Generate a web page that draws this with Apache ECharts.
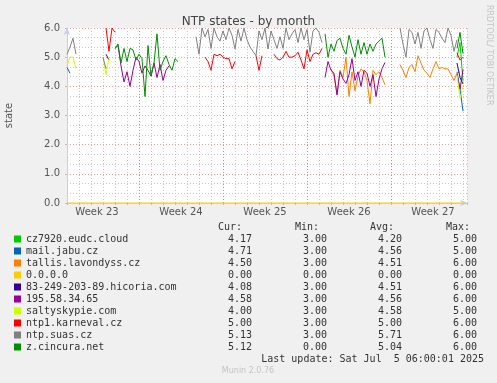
<!DOCTYPE html>
<html><head><meta charset="utf-8">
<script src="https://cdn.jsdelivr.net/npm/echarts@6/dist/echarts.min.js"></script>
<style>html,body{margin:0;padding:0;background:#f0f0f0}#c{width:497px;height:383px}</style>
</head><body><div id="c"></div>
<script>
// ---- data ----
const hosts = ['cz7920.eudc.cloud','mail.jabu.cz','tallis.lavondyss.cz','0.0.0.0','83-249-203-89.hicoria.com','195.58.34.65','saltyskypie.com','ntp1.karneval.cz','ntp.suas.cz','z.cincura.net'];
const curVals = [4.17,4.71,4.50,0.00,4.08,4.58,4.00,5.00,5.13,5.12];
const minVals = [3.00,3.00,3.00,0.00,3.00,3.00,3.00,3.00,3.00,0.00];
const avgVals = [4.20,4.56,4.51,0.00,4.51,4.56,4.58,5.00,5.71,5.04];
const maxVals = [5.00,5.00,6.00,0.00,6.00,6.00,5.00,6.00,6.00,6.00];
const weekLabels = ['Week 23','Week 24','Week 25','Week 26','Week 27'];
const weekCenters = [3.5,10.5,17.5,24.5,31.5];   // days since Mon of week 23
const weekStarts = [7,14,21,28];
const yTicks = [0,1,2,3,4,5,6];
const startDay = 1, endDay = 34 + 1/3, stepDays = 0.25; // 6-hour samples
// segments: [sample index, values]
const cz7920 = [[130,[5.0,5.5,4.17]]];
const mailJabu = [[0,[4.65,4.45]],[130,[4.5,3.9,3.15]]];
const tallis = [[88,[4.6,4.35,3.75,4.55,4.3,5.0,3.65,4.5,3.85,4.35,4.6,4.5,4.2,3.4,4.55,4.4,4.5,4.3,4.05]],
  [111,[4.75,4.55,4.3,4.65,4.75,4.5,5.05,4.8,4.55,4.45,4.3,4.6,4.85,4.6,4.65,4.6,4.6,4.4,4.2,4.45,4.5]]];
const host0000 = [[0,[0,0,0,0,0,0,0,0,0,0, 0,0,0,0,0,0,0,0,0,0, 0,0,0,0,0,0,0,0,0,0, 0,0,0,0,0,0,0,0,0,0,
  0,0,0,0,0,0,0,0,0,0, 0,0,0,0,0,0,0,0,0,0, 0,0,0,0,0,0,0,0,0,0, 0,0,0,0,0,0,0,0,0,0,
  0,0,0,0,0,0,0,0,0,0, 0,0,0,0,0,0,0,0,0,0, 0,0,0,0,0,0,0,0,0,0, 0,0,0,0,0,0,0,0,0,0,
  0,0,0,0,0,0,0,0,0,0, 0,0,0,0]]];
const hicoria = [[13,[5.1,4.9]],[130,[4.8,4.3,4.08]]];
const ip195 = [[16,[5.3,5.4,4.7,4.15,4.5,4.0,4.55,5.0,4.85,4.45,4.7,4.55,4.35,4.8,4.3,4.75,4.2,4.55,4.7]],
  [86,[4.3,4.85,4.55,4.45,3.7,4.5,4.25,4.1,4.4,4.95,4.2,4.5,4.0,4.55,4.45,4.0,4.4,3.65,4.25,4.6,4.82]],
  [130,[4.4,3.9,4.58]]];
const salty = [[0,[4.7,5.0,5.0,4.6]],[12,[5.0,4.4,4.95]],[130,[4.4,3.6,4.0]]];
const ntp1 = [[13,[6.0,5.2,6.0,5.85]],
  [46,[5.0,4.85,4.55,5.1,5.05,5.1,5.0,4.95,4.95,4.6,4.85]],
  [63,[5.05,4.55,5.05]],
  [69,[5.1,4.95,4.9,5.0,5.2,5.0,5.0,5.05,5.17,4.9,4.6,5.25,4.85,5.1,5.15,5.1,5.3]],
  [130,[5.15,4.9,5.0]]];
const ntpSuas = [[0,[5.1,5.35,5.65,5.1]],[12,[5.0,4.6]],
  [43,[5.7,5.1,6.0,5.7,5.95,5.3,6.0,5.7,5.55,5.9,5.6,6.0,5.75,5.28,5.95,5.55,6.0,5.6,5.35,5.2,
       5.05,5.9,5.6,6.0,5.28,5.9,5.6,5.3,5.7,5.3,6.0,5.6,5.8,5.95,5.5,6.0,5.6,5.95,5.17,5.9,6.0,5.85,5.5]],
  [111,[6.0,5.45,5.0,5.95,5.85,5.45,5.85,5.3,5.9,6.0,5.6,5.3,5.95,5.85,5.65,5.5,6.0,5.75,5.2,5.6]]];
const zCincura = [[16,[5.3,5.45,4.8,5.3,4.85,5.3,5.25,4.9,5.1,4.95,3.65,5.4,4.35,4.8,5.8,4.55,4.85,5.05,4.75,4.55,4.95,4.85]],
  [86,[5.8,5.0,5.45,5.2,5.57,5.65,5.3,5.1,5.75,5.35,5.0,5.6,5.1,5.5,5.1,5.45,5.2,5.45,5.55,5.65,5.0]],
  [130,[5.3,5.85,5.12]]];
const seriesData = [cz7920, mailJabu, tallis, host0000, hicoria, ip195, salty, ntp1, ntpSuas, zCincura];
// ---- styles ----
const colors = ['#00cc00','#0066b3','#ff8000','#ffcc00','#330099','#990099','#ccff00','#ff0000','#808080','#008f00'];
const mono = 'DejaVu Sans Mono', sans = 'DejaVu Sans';
const gridGray = '#c8c8c8', gridRed = 'rgba(225,90,90,0.6)', axisBlue = '#c4ccf4';

function build(segs){
  const out = [];
  segs.forEach(([k0, vals]) => {
    vals.forEach((v,i) => out.push([startDay + (k0+i)*stepDays, v]));
    out.push([startDay + (k0+vals.length)*stepDays, '-']);
  });
  return out;
}
const series = hosts.map((h,i) => ({
  name: h, type: 'line', data: build(seriesData[i]), showSymbol: false, symbol: 'none',
  connectNulls: false, lineStyle: {width: 1, color: colors[i]}, itemStyle: {color: colors[i]},
  emphasis: {disabled: true}, animation: false, z: 3
}));
series[3].markLine = {
  silent: true, symbol: 'none', label: {show: false}, animation: false,
  lineStyle: {color: gridRed, type: [1,2], width: 1},
  data: weekStarts.map(w => ({xAxis: w}))
};
series[3].markLine.z = 1;

const f2 = v => v.toFixed(2);
const chart = echarts.init(document.getElementById('c'), null, {renderer: 'canvas'});
chart.setOption({
  backgroundColor: '#f0f0f0',
  animation: false,
  title: {text: 'NTP states - by month', left: 'center', top: 11,
    textStyle: {fontFamily: sans, fontSize: 12, fontWeight: 'normal', color: '#444'}},
  grid: {left: 67, top: 28, width: 400, height: 175, show: true, backgroundColor: '#ffffff', borderWidth: 0,
    containLabel: false, outerBoundsMode: 'none'},
  xAxis: [{
    type: 'value', min: startDay, max: endDay, interval: 1,
    axisLine: {show: true, lineStyle: {color: axisBlue, width: 1}, symbol: ['none','arrow'], symbolSize: [5,7]},
    axisTick: {show: true, length: 2, lineStyle: {color: '#bbbbbb'}},
    axisLabel: {show: false},
    splitLine: {show: true, lineStyle: {color: gridGray, type: [1,2], width: 1}}
  },{
    type: 'value', min: startDay, max: endDay, position: 'bottom',
    axisLine: {show: false}, axisTick: {show: false}, splitLine: {show: false},
    axisLabel: {show: true, customValues: weekCenters, margin: 4,
      formatter: v => weekLabels[weekCenters.indexOf(v)] || '',
      fontFamily: sans, fontSize: 10, color: '#555'}
  }],
  yAxis: {
    type: 'value', min: yTicks[0], max: yTicks[yTicks.length-1], interval: 1,
    name: 'state', nameLocation: 'middle', nameGap: 53, nameRotate: 90,
    nameTextStyle: {fontFamily: sans, fontSize: 10, color: '#555'},
    axisLine: {show: true, lineStyle: {color: axisBlue, width: 1}, symbol: ['none','arrow'], symbolSize: [5,7]},
    axisTick: {show: true, length: 2, lineStyle: {color: '#bbbbbb'}},
    axisLabel: {formatter: v => v.toFixed(1), fontFamily: sans, fontSize: 10, color: '#555', margin: 7},
    splitLine: {show: true, lineStyle: {color: gridRed, type: [1,2], width: 1}},
    minorTick: {show: false, splitNumber: 3},
    minorSplitLine: {show: true, lineStyle: {color: gridGray, type: [1,2], width: 1}}
  },
  legend: {
    orient: 'vertical', left: 14, top: 233, padding: 0, itemGap: 0,
    itemWidth: 7, itemHeight: 7, icon: 'rect', selectedMode: false,
    data: hosts.map((h,i) => ({name: h, itemStyle: {color: colors[i]}})),
    textStyle: {fontFamily: mono, fontSize: 10, color: '#333', lineHeight: 12,
      rich: {
        n: {width: 202, fontFamily: mono, fontSize: 10, color: '#333', lineHeight: 12},
        c: {width: 75, fontFamily: mono, fontSize: 10, color: '#333', lineHeight: 12},
        m: {width: 75, fontFamily: mono, fontSize: 10, color: '#333', lineHeight: 12},
        a: {width: 75, fontFamily: mono, fontSize: 10, color: '#333', lineHeight: 12},
        x: {fontFamily: mono, fontSize: 10, color: '#333', lineHeight: 12}
      }},
    formatter: name => {
      const i = hosts.indexOf(name);
      return '{n|' + name + '}{c|' + f2(curVals[i]) + '}{m|' + f2(minVals[i]) + '}{a|' + f2(avgVals[i]) + '}{x|' + f2(maxVals[i]) + '}';
    }
  },
  graphic: [
    {type: 'text', x: 218, y: 227, style: {text: 'Cur:', font: '10px "DejaVu Sans Mono"', fill: '#333', textAlign: 'left', textVerticalAlign: 'middle'}},
    {type: 'text', x: 295, y: 227, style: {text: 'Min:', font: '10px "DejaVu Sans Mono"', fill: '#333', textAlign: 'left', textVerticalAlign: 'middle'}},
    {type: 'text', x: 370, y: 227, style: {text: 'Avg:', font: '10px "DejaVu Sans Mono"', fill: '#333', textAlign: 'left', textVerticalAlign: 'middle'}},
    {type: 'text', x: 446, y: 227, style: {text: 'Max:', font: '10px "DejaVu Sans Mono"', fill: '#333', textAlign: 'left', textVerticalAlign: 'middle'}},
    {type: 'text', x: 484, y: 359, style: {text: 'Last update: Sat Jul  5 06:00:01 2025', font: '10px "DejaVu Sans Mono"', fill: '#333', textAlign: 'right', textVerticalAlign: 'middle'}},
    {type: 'text', x: 248, y: 371, style: {text: 'Munin 2.0.76', font: '8px "DejaVu Sans"', fill: '#c4c4c4', textAlign: 'center', textVerticalAlign: 'middle'}},
    {type: 'text', x: 489, y: 5, rotation: -Math.PI/2, style: {text: 'RRDTOOL/ TOBI OETIKER', font: '8px "DejaVu Sans"', fill: '#c4c4c4', textAlign: 'left', textVerticalAlign: 'middle'}}
  ],
  series: series
});
</script></body></html>
